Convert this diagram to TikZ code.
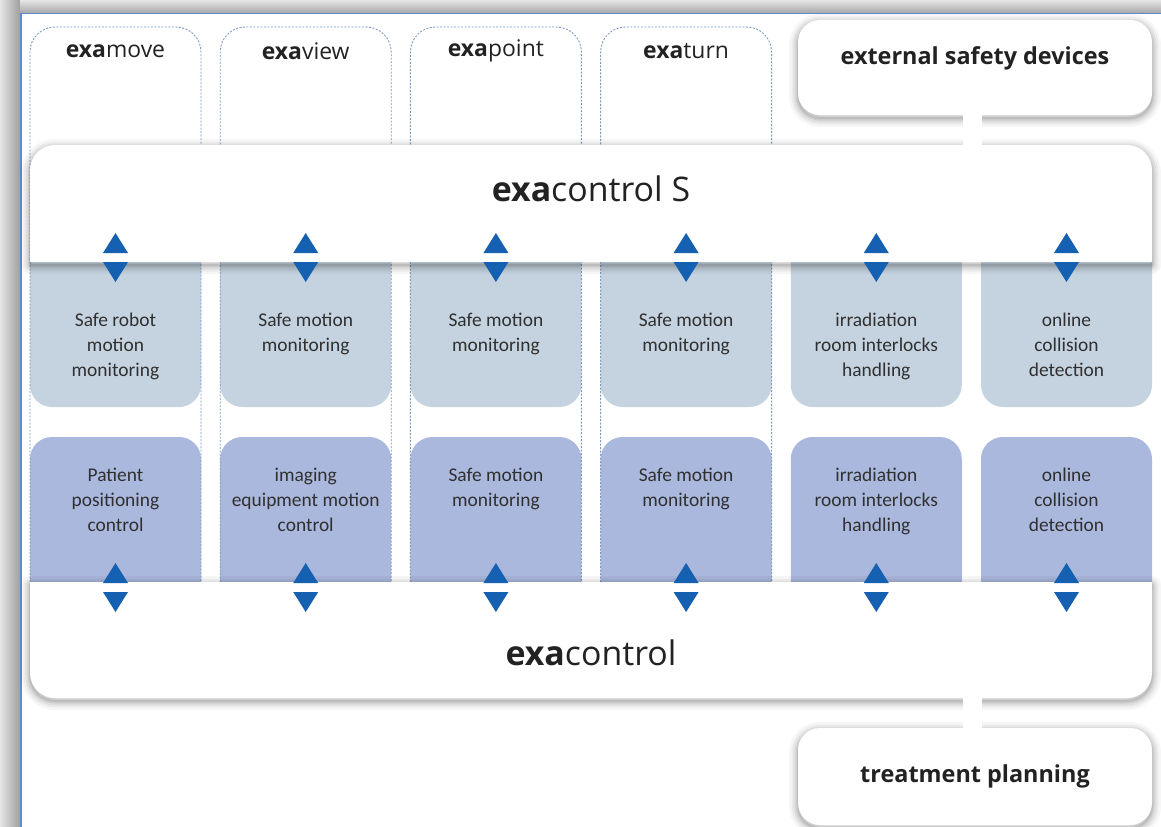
\documentclass[tikz,border=0pt]{standalone}
\usepackage{fontspec}
\setmainfont{Open Sans}
\newfontfamily\boxfont{Carlito}
\definecolor{upbox}{HTML}{C5D3E0}
\definecolor{lowbox}{HTML}{AAB8DD}
\definecolor{arrowblue}{HTML}{1560B0}
\definecolor{dashblue}{HTML}{7C9BC0}
\definecolor{frameblue}{HTML}{5B8BD6}
\definecolor{txt}{HTML}{222222}
\definecolor{boxtxt}{HTML}{303030}
\newcommand\softshade[1]{%
  \foreach \w/\o in {18/0.035,13/0.045,9/0.055,5/0.07,2/0.08}{%
    \draw[black, draw opacity=\o, line width=\w bp, yshift=-3bp, line join=round] #1;}}
\begin{document}
\begin{tikzpicture}[x=1bp,y=-1bp,
  whitebox/.style={fill=white, rounded corners=22bp, inner sep=0},
  bandshape/.style={fill=white},
  colline/.style={draw=dashblue, line width=0.9bp, dash pattern=on 2bp off 1.5bp},
  boxtext/.style={font=\boxfont\fontsize{19.5}{25}\selectfont, text=boxtxt, align=center, anchor=north, inner sep=0},
  headtext/.style={font=\fontsize{23}{27}\selectfont, text=txt, inner sep=0},
  bigtext/.style={font=\fontsize{34}{38}\selectfont, text=txt, inner sep=0},
  sidetext/.style={font=\bfseries\fontsize{23.5}{27}\selectfont, text=txt},
  bar/.style={draw=white, line width=19bp},
  tri/.style={fill=arrowblue}
]
\useasboundingbox (0,0) rectangle (1161,827);
% outer frame shadow
\shade[left color=gray!20, right color=gray!75] (0,0) rectangle (20,827);
\shade[top color=gray!20, bottom color=gray!65] (20,0) rectangle (1161,12);
\fill[white] (21,13) rectangle (1161,827);
\draw[frameblue, line width=1.3bp] (21,827) -- (21,13.5) -- (1161,13.5);

% upper and lower module boxes
\foreach \i in {0,...,5}{
  \pgfmathsetmacro{\L}{30+190.2*\i}
  \fill[upbox] (\L,255) -- (\L,385) arc[start angle=180,end angle=90,radius=22]
     -- (\L+149,407) arc[start angle=90,end angle=0,radius=22] -- (\L+171,255) -- cycle;
  \fill[lowbox] (\L,590) -- (\L,459) arc[start angle=180,end angle=270,radius=22]
     -- (\L+149,437) arc[start angle=270,end angle=360,radius=22] -- (\L+171,590) -- cycle;
}
% dashed product columns
\foreach \i in {0,...,3}{
  \pgfmathsetmacro{\L}{30+190.2*\i}
  \draw[colline] (\L,582) -- (\L,52) arc[start angle=180,end angle=270,radius=25]
     -- (\L+146,27) arc[start angle=270,end angle=360,radius=25] -- (\L+171,582);
}

% shadows
\softshade{(30,262) -- (30,170) arc[start angle=180,end angle=270,radius=25]
   -- (1127,145) arc[start angle=270,end angle=360,radius=25] -- (1152,262) -- cycle}
\softshade{(30,582) -- (30,673) arc[start angle=180,end angle=90,radius=25]
   -- (1127,698) arc[start angle=90,end angle=0,radius=25] -- (1152,582) -- cycle}
\softshade{[rounded corners=22bp] (798,20) rectangle (1152,115)}
\softshade{[rounded corners=22bp] (798,728) rectangle (1152,825)}

% bands
\path[bandshape] (30,262) -- (30,170) arc[start angle=180,end angle=270,radius=25]
   -- (1127,145) arc[start angle=270,end angle=360,radius=25] -- (1152,262) -- cycle;
\path[bandshape] (30,582) -- (30,673) arc[start angle=180,end angle=90,radius=25]
   -- (1127,698) arc[start angle=90,end angle=0,radius=25] -- (1152,582) -- cycle;
\node[inner sep=0, minimum width=1122bp, minimum height=117bp] (ecs) at (591,203.5) {};
\node[inner sep=0, minimum width=1122bp, minimum height=116bp] (ec) at (591,640) {};

% side boxes
\node[whitebox, minimum width=354bp, minimum height=95bp] (esd) at (975,67.5) {};
\node[whitebox, minimum width=354bp, minimum height=97bp, sidetext] (tp) at (975,776.5) {treatment planning};
\node[sidetext] (esdt) at (975,58) {external safety devices};

% connectors
\draw[bar] ([xshift=-2.5bp]esd.south) -- ([xshift=-2.5bp]esd.south |- ecs.north);
\draw[bar] ([xshift=-2.5bp]ec.south -| esd.south) -- ([xshift=-2.5bp]tp.north);

% titles
\node[bigtext] (ecst) at (591,189) {\textbf{exa}control S};
\node[bigtext] (ect) at (591,653) {\textbf{exa}control};
\node[headtext] (h1) at (115.5,51) {\textbf{exa}move};
\node[headtext] (h2) at (305.7,51) {\textbf{exa}view};
\node[headtext] (h3) at (495.9,51) {\textbf{exa}point};
\node[headtext] (h4) at (686.1,51) {\textbf{exa}turn};

% double arrows
\foreach \i in {0,...,5}{
  \pgfmathsetmacro{\c}{115.5+190.2*\i}
  \fill[tri] (\c-12.5,253) -- (\c,233) -- (\c+12.5,253) -- cycle;
  \fill[tri] (\c-12.5,262) -- (\c,282) -- (\c+12.5,262) -- cycle;
  \fill[tri] (\c-12.5,583) -- (\c,563) -- (\c+12.5,583) -- cycle;
  \fill[tri] (\c-12.5,592) -- (\c,612) -- (\c+12.5,592) -- cycle;
}

% module texts
\foreach \i/\t in {0/{Safe robot\\motion\\monitoring},1/{Safe motion\\monitoring},2/{Safe motion\\monitoring},3/{Safe motion\\monitoring},4/{irradiation\\room interlocks\\handling},5/{online\\collision\\detection}}{
  \pgfmathsetmacro{\c}{115.5+190.2*\i}
  \node[boxtext] (u\i) at (\c,313) {\t};
}
\foreach \i/\t in {0/{Patient\\positioning\\control},1/{imaging\\equipment motion\\control},2/{Safe motion\\monitoring},3/{Safe motion\\monitoring},4/{irradiation\\room interlocks\\handling},5/{online\\collision\\detection}}{
  \pgfmathsetmacro{\c}{115.5+190.2*\i}
  \node[boxtext] (l\i) at (\c,468) {\t};
}
\end{tikzpicture}
\end{document}
